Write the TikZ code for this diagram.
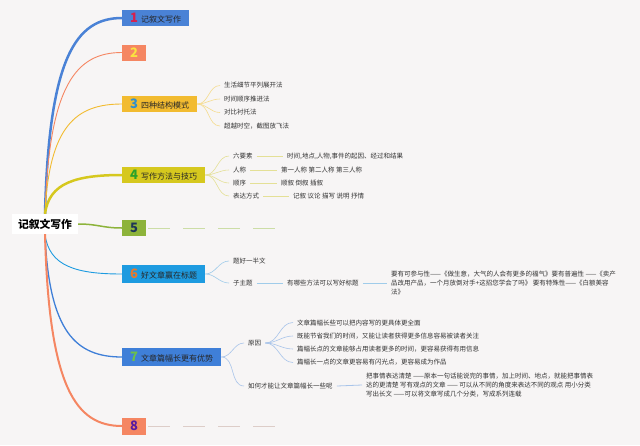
\documentclass[tikz,border=0pt]{standalone}
\usepackage{fontspec}
\newfontfamily\cjk{Noto Sans CJK SC}

\definecolor{bgcol}{RGB}{247,245,245}
\definecolor{cBlue}{RGB}{74,130,214}
\definecolor{cSalmon}{RGB}{245,134,98}
\definecolor{cAmber}{RGB}{242,187,48}
\definecolor{cOlive}{RGB}{214,200,30}
\definecolor{cGreen}{RGB}{141,179,58}
\definecolor{cSky}{RGB}{30,155,224}
\definecolor{cBlueB}{RGB}{63,127,216}
\definecolor{nRed}{RGB}{214,33,79}
\definecolor{nYellow}{RGB}{250,226,64}
\definecolor{nTeal}{RGB}{47,143,207}
\definecolor{nGreen}{RGB}{42,161,42}
\definecolor{nNavy}{RGB}{29,53,87}
\definecolor{nOrange}{RGB}{232,121,43}
\definecolor{nLime}{RGB}{108,192,74}
\definecolor{nPurple}{RGB}{90,26,160}
\definecolor{fanAmber}{RGB}{245,220,142}
\definecolor{fanOlive}{RGB}{228,224,150}
\definecolor{fanSky}{RGB}{160,204,234}
\definecolor{fanBlue}{RGB}{168,196,234}

\newcommand{\topicnum}[2]{{\fontsize{13}{13}\selectfont\bfseries\color{#1}#2}}

\tikzset{
	topic/.style={anchor=west, minimum height=16pt, inner xsep=8pt, inner ysep=0pt,
		font=\cjk\fontsize{8}{10}\selectfont, text=black!85},
	leaf/.style={anchor=west, inner xsep=4pt, inner ysep=1pt,
		font=\cjk\fontsize{6.5}{8.7}\selectfont, text=black!80},
	block/.style={leaf, align=left},
}

\begin{document}
\begin{tikzpicture}[x=1pt, y=-1pt]

	\useasboundingbox[fill=bgcol] (0,0) rectangle (640,445);

	% root and main topics
	\node[fill=white, minimum width=66pt, minimum height=20pt, inner sep=0pt,
		font=\cjk\bfseries\fontsize{10.8}{12}\selectfont] (root) at (45,224) {记叙文写作};

	\node[topic, fill=cBlue]   (b1) at (122,18)  {\topicnum{nRed}{1}\hspace{3pt}记叙文写作};
	\node[topic, fill=cSalmon] (b2) at (122,52.5) {\topicnum{nYellow}{2}};
	\node[topic, fill=cAmber]  (b3) at (122,104) {\topicnum{nTeal}{3}\hspace{3pt}四种结构模式};
	\node[topic, fill=cOlive]  (b4) at (122,175) {\topicnum{nGreen}{4}\hspace{3pt}写作方法与技巧};
	\node[topic, fill=cGreen]  (b5) at (122,228) {\topicnum{nNavy}{5}};
	\node[topic, fill=cSky, minimum height=18pt]   (b6) at (122,274) {\topicnum{nOrange}{6}\hspace{3pt}好文章赢在标题};
	\node[topic, fill=cBlueB, minimum height=18pt] (b7) at (122,357) {\topicnum{nLime}{7}\hspace{3pt}文章篇幅长更有优势};
	\node[topic, fill=cSalmon, minimum height=17pt] (b8) at (122,426) {\topicnum{nPurple}{8}};

	% branches
	\draw[cBlue, line width=2.5pt] (root.north) .. controls +(4,-157) and +(-46,0) .. (b1.west);
	\draw[cSalmon, line width=0.9pt] (root.north) .. controls +(4,-129) and +(-46,0) .. (b2.west);
	\draw[cAmber, line width=0.9pt] (root.north) .. controls +(4,-88) and +(-46,0) .. (b3.west);
	\draw[cOlive, line width=2.5pt] (root.north) .. controls +(4,-31) and +(-46,0) .. (b4.west);
	\draw[cGreen, line width=1.5pt] (root.east) .. controls +(20,0) and +(-20,0) .. (b5.west);
	\draw[cSky, line width=0.9pt] (root.south) .. controls +(4,32) and +(-46,0) .. (b6.west);
	\draw[cBlueB, line width=1.3pt] (root.south) .. controls +(4,98) and +(-46,0) .. (b7.west);
	\draw[cSalmon, line width=2pt] (root.south) .. controls +(4,154) and +(-46,0) .. (b8.west);

	% topic 3
	\node[leaf] (s31) at (220,85.5) {生活细节平列展开法};
	\node[leaf] (s32) at (220,99)   {时间顺序推进法};
	\node[leaf] (s33) at (220,112.5) {对比衬托法};
	\node[leaf] (s34) at (220,126)  {超越时空，截图放飞法};
	\foreach \s in {s31,s32,s33,s34}
		\draw[fanAmber, line width=0.6pt] (b3.east) to[out=0,in=180] (\s.west);

	% topic 4
	\node[leaf] (s41) at (229,156) {六要素};
	\node[leaf] (s42) at (229,170) {人称};
	\node[leaf] (s43) at (229,183) {顺序};
	\node[leaf] (s44) at (229,196) {表达方式};
	\node[leaf] (t41) at (283,156) {时间,地点,人物,事件的起因、经过和结果};
	\node[leaf] (t42) at (277,170) {第一人称 第二人称 第三人称};
	\node[leaf] (t43) at (277,183) {顺叙 倒叙 插叙};
	\node[leaf] (t44) at (289,196) {记叙 议论 描写 说明 抒情};
	\foreach \i in {1,...,4} {
		\draw[fanOlive, line width=0.6pt] (b4.east) to[out=0,in=180] (s4\i.west);
		\draw[fanOlive, line width=0.8pt] (s4\i.east) -- (t4\i.west);
	}

	% topic 5 and 8, empty sub topics
	\coordinate (e5) at (277,228);
	\coordinate (e8) at (277,426);
	\draw[cGreen!45, line width=0.8pt, dash pattern=on 22pt off 13pt, shorten <=2pt] (b5.east) -- (e5);
	\draw[cSalmon!35!gray!40, line width=0.8pt, dash pattern=on 22pt off 13pt, shorten <=2pt] (b8.east) -- (e8);

	% topic 6
	\node[leaf] (s61) at (229,261) {题好一半文};
	\node[leaf] (s62) at (229,283) {子主题};
	\node[leaf] (t62) at (283,283) {有哪些方法可以写好标题};
	\node[block] (u62) at (387,283) {要有可参与性——《做生意，大气的人会有更多的福气》要有普遍性 ——《卖产\\
		品改用产品，一个月放倒对手+这招您学会了吗》 要有特殊性——《白额美容\\
		法》};
	\draw[fanSky, line width=0.6pt] (b6.east) to[out=0,in=180] (s61.west);
	\draw[fanSky, line width=0.6pt] (b6.east) to[out=0,in=180] (s62.west);
	\draw[fanSky, line width=0.8pt] (s62.east) -- (t62.west);
	\draw[fanSky, line width=0.8pt] (t62.east) -- (u62.west);

	% topic 7
	\node[leaf] (s71) at (244,343) {原因};
	\node[leaf] (s72) at (244,386) {如何才能让文章篇幅长一些呢};
	\node[leaf] (r1) at (293,322.5) {文章篇幅长些可以把内容写的更具体更全面};
	\node[leaf] (r2) at (293,336)   {既能节省我们的时间，又能让读者获得更多信息容易被读者关注};
	\node[leaf] (r3) at (293,349)   {篇幅长点的文章能够占用读者更多的时间，更容易获得有用信息};
	\node[leaf] (r4) at (293,362.5) {篇幅长一点的文章更容易有闪光点，更容易成为作品};
	\node[block] (t72) at (362,385) {把事情表达清楚 ——原本一句话能说完的事情，加上时间、地点，就能把事情表\\
		达的更清楚 写有观点的文章 —— 可以从不同的角度来表达不同的观点 用小分类\\
		写出长文 ——可以将文章写成几个分类，写成系列连载};
	\draw[fanBlue, line width=0.6pt] (b7.east) to[out=0,in=180] (s71.west);
	\draw[fanBlue, line width=0.6pt] (b7.east) to[out=0,in=180] (s72.west);
	\foreach \r in {r1,r2,r3,r4}
		\draw[fanBlue, line width=0.6pt] (s71.east) to[out=0,in=180] (\r.west);
	\draw[fanBlue, line width=0.8pt] (s72.east) -- (t72.west);

\end{tikzpicture}
\end{document}
